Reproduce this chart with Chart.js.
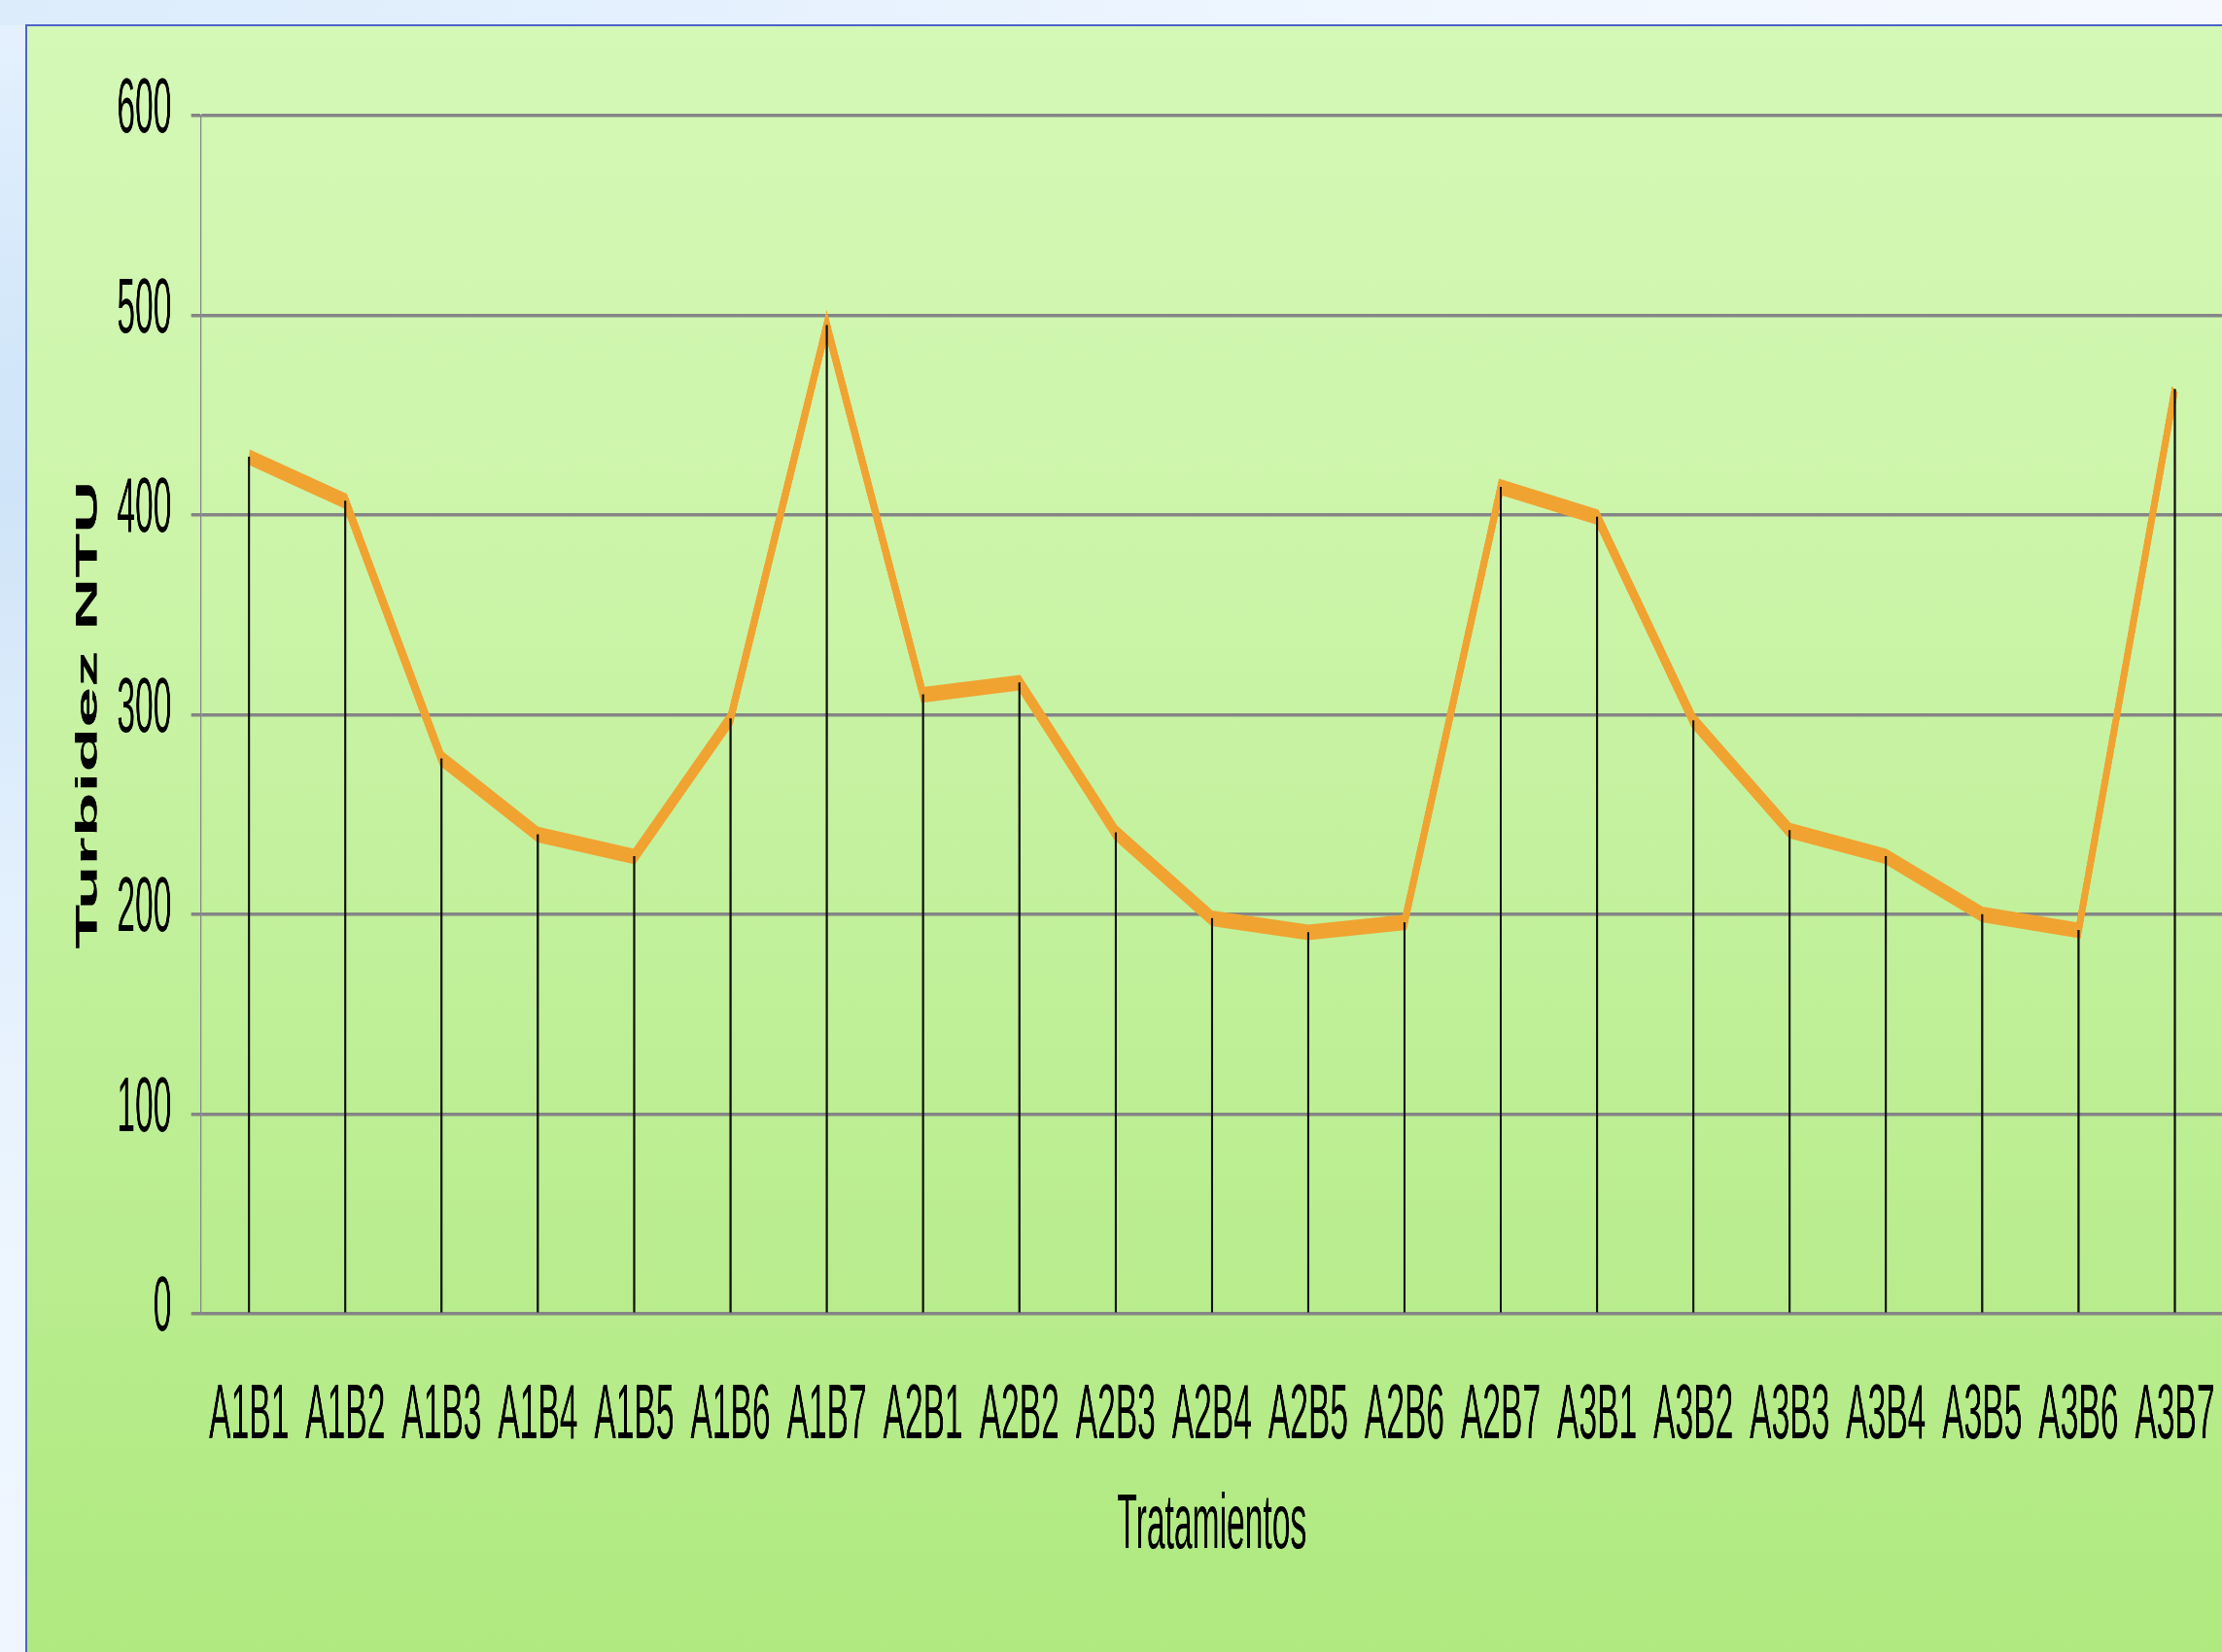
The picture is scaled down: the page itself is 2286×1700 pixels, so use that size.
<!DOCTYPE html>
<html>
<head>
<meta charset="utf-8">
<script src="https://cdn.jsdelivr.net/npm/chart.js@4.4.1/dist/chart.umd.min.js"></script>
<style>
html,body{margin:0;padding:0;width:2286px;height:1700px;overflow:hidden;}
body{position:relative;background:linear-gradient(180deg,#e6f1fd 0%,#d4e8fa 18%,#cfe4f8 30%,#e0eefc 50%,#ecf5fe 75%,#eff6ff 100%);}
#topstrip{position:absolute;left:0;top:0;width:2286px;height:26px;background:linear-gradient(90deg,#dcecfb 0%,#e4f0fd 30%,#eef6ff 60%,#f5f9ff 100%);}
#panel{position:absolute;left:26px;top:25px;right:0;bottom:0;border-top:2px solid #4d63c9;border-left:2px solid #4d63c9;background:linear-gradient(180deg,#d4f8b6 0%,#cdf5aa 30%,#bfef97 62%,#afe97f 100%);}
#c{position:absolute;left:0;top:0;}
</style>
</head>
<body>
<div id="topstrip"></div>
<div id="panel"></div>
<canvas id="c" width="5445" height="1700" style="width:2287px;height:1700px"></canvas>
<script>
// ---- data ----
const categories = ['A1B1','A1B2','A1B3','A1B4','A1B5','A1B6','A1B7',
                    'A2B1','A2B2','A2B3','A2B4','A2B5','A2B6','A2B7',
                    'A3B1','A3B2','A3B3','A3B4','A3B5','A3B6','A3B7'];
const turbidity = [429, 407, 278, 240, 229, 298, 495,
                   310, 316, 241, 198, 191, 196, 414,
                   399, 297, 242, 229, 200, 192, 463];
const yTicks = [0, 100, 200, 300, 400, 500, 600];
const yTitle = 'Turbidez NTU';
const xTitle = 'Tratamientos';

// ---- rendering ----
const FONT = '"Liberation Sans", Arial, sans-serif';
const SX = 0.42;             // horizontal squeeze of the canvas (2287 / 5445)
const CANVAS_H = 1700;
const AREA_BOTTOM = 1352;

new Chart(document.getElementById('c'), {
  data: {
    labels: categories,
    datasets: [
      { type: 'bar', data: turbidity, backgroundColor: '#111', barThickness: 4.5, order: 0 },
      { type: 'line', data: turbidity, borderColor: '#f0a331', borderWidth: 16,
        pointRadius: 0, tension: 0, fill: false, order: 1 }
    ]
  },
  options: {
    responsive: false,
    animation: false,
    devicePixelRatio: 1,
    layout: { padding: { top: 119, left: 0, right: 0, bottom: 0 } },
    plugins: { legend: { display: false }, tooltip: { enabled: false } },
    scales: {
      x: {
        offset: true,
        grid: { display: false },
        border: { display: false },
        ticks: { color: '#000', padding: 50, maxRotation: 0, autoSkip: false,
                 font: { family: FONT, size: 80 } },
        title: { display: true, text: xTitle, color: '#000',
                 font: { family: FONT, size: 80 }, padding: { top: 0, bottom: 81 } },
        afterFit(s) { s.height = CANVAS_H - AREA_BOTTOM; s.paddingLeft = 0; s.paddingRight = 0; }
      },
      y: {
        min: 0, max: 600,
        afterBuildTicks(s) { s.ticks = yTicks.map(v => ({ value: v })); },
        grid: { color: '#858585', lineWidth: 3.5, tickLength: 24, drawTicks: true },
        border: { display: true, color: '#858585', width: 2.5 },
        ticks: { color: '#000', padding: 48, labelOffset: -5,
                 font: { family: FONT, size: 80 } },
        title: { display: true, text: yTitle, color: '#000',
                 font: { family: FONT, size: 75, weight: 'bold' }, padding: { top: 171, bottom: 0 } },
        afterFit(s) { s.width = Math.round(206.5 / SX); }
      }
    }
  }
});
</script>
</body>
</html>
